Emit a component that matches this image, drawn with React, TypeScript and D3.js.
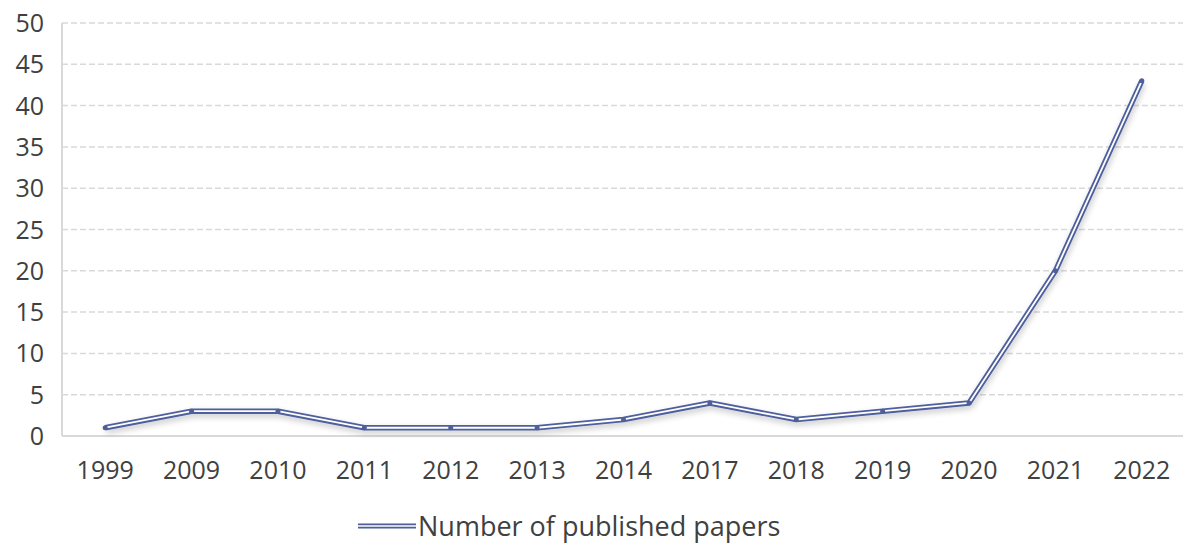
import React from "react";
import * as d3 from "d3";

const years = ["1999","2009","2010","2011","2012","2013","2014","2017","2018","2019","2020","2021","2022"];
const papers = [1,3,3,1,1,1,2,4,2,3,4,20,43];
const yTicks = [0,5,10,15,20,25,30,35,40,45,50];
const seriesName = "Number of published papers";

const W = 1183, H = 544;
const left = 62, right = 1185, top = 23, bottom = 436;

export default function App() {
  const x = d3.scaleBand<string>().domain(years).range([left, right]);
  const y = d3.scaleLinear().domain([0, 50]).range([bottom, top]);
  const cx = (d: string) => (x(d) as number) + x.bandwidth() / 2;
  const line = d3.line<number>().x((_, i) => cx(years[i])).y(d => y(d));
  const path = line(papers) as string;
  const font = "'Open Sans', 'Noto Sans', sans-serif";
  const lx1 = 358, lx2 = 416, ly = 526;
  return (
    <svg width={W} height={H} style={{ position: "absolute", left: 0, top: 0, background: "#fff" }}>
      <defs>
        <filter id="sh" x="-10%" y="-10%" width="120%" height="130%">
          <feGaussianBlur in="SourceAlpha" stdDeviation="3" />
          <feOffset dx="1" dy="3" result="b" />
          <feComponentTransfer><feFuncA type="linear" slope="0.22" /></feComponentTransfer>
          <feMerge><feMergeNode /><feMergeNode in="SourceGraphic" /></feMerge>
        </filter>
      </defs>
      {yTicks.filter(t => t > 0).map(t => (
        <line key={t} x1={left} x2={W} y1={y(t)} y2={y(t)} stroke="#d9d9d9" strokeWidth={1.5} strokeDasharray="6,3" />
      ))}
      <line x1={left} x2={left} y1={top} y2={bottom} stroke="#d9d9d9" strokeWidth={2} />
      <line x1={left} x2={W} y1={bottom} y2={bottom} stroke="#d9d9d9" strokeWidth={2} />
      {yTicks.map(t => (
        <text key={t} x={44} y={y(t)} dy="0.36em" textAnchor="end" fontSize={25} fill="#404040" fontFamily={font}>{t}</text>
      ))}
      {years.map(d => (
        <text key={d} x={cx(d)} y={470} dy="0.36em" textAnchor="middle" fontSize={25} fill="#404040" fontFamily={font}>{d}</text>
      ))}
      <g filter="url(#sh)">
        <path d={path} fill="none" stroke="#4e5f9c" strokeWidth={5.5} strokeLinejoin="round" />
        <path d={path} fill="none" stroke="#ffffff" strokeWidth={1.8} strokeLinejoin="round" />
      </g>
      {papers.map((v, i) => (
        <circle key={i} cx={cx(years[i])} cy={y(v)} r={2.5} fill="#4e5f9c" />
      ))}
      <line x1={lx1} x2={lx2} y1={ly} y2={ly} stroke="#4e5f9c" strokeWidth={5} />
      <line x1={lx1} x2={lx2} y1={ly} y2={ly} stroke="#fff" strokeWidth={1.6} />
      <text x={418} y={ly} dy="0.36em" fontSize={27} fill="#404040" fontFamily={font}>{seriesName}</text>
    </svg>
  );
}
